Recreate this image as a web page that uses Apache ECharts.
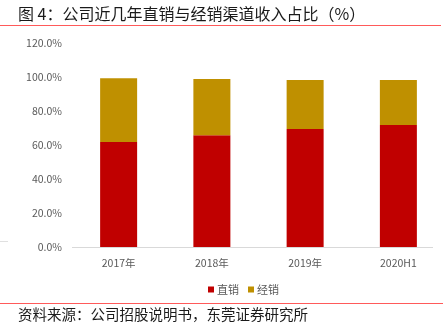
<!DOCTYPE html>
<html><head><meta charset="utf-8">
<script src="https://cdn.jsdelivr.net/npm/echarts@6/dist/echarts.min.js"></script>
<style>html,body{margin:0;padding:0;background:#fff}#c{width:445px;height:330px}</style>
</head><body><div id="c"></div>
<script>
const categories = ['2017年', '2018年', '2019年', '2020H1'];
const directSales = [61.8, 65.7, 69.4, 71.8];
const distribution = [37.4, 33.1, 28.8, 26.4];
const seriesNames = ['直销', '经销'];
const titleText = '图 4：公司近几年直销与经销渠道收入占比（%）';
const sourceText = '资料来源：公司招股说明书，东莞证券研究所';

const font = '"Noto Sans CJK SC", "Microsoft YaHei", sans-serif';
const chart = echarts.init(document.getElementById('c'), null, {renderer: 'canvas'});
chart.setOption({
  animation: false,
  textStyle: {fontFamily: font},
  graphic: [
    {type: 'text', left: 18, top: 6, style: {text: titleText, font: '16px ' + font, fill: '#1a1a1a'}},
    {type: 'line', shape: {x1: 0, y1: 25.5, x2: 441, y2: 25.5}, style: {stroke: '#FF5A5A', lineWidth: 1.2}},
    {type: 'line', shape: {x1: 72, y1: 247.5, x2: 433, y2: 247.5}, style: {stroke: '#D9D9D9', lineWidth: 1}},
    {type: 'line', shape: {x1: 0, y1: 241.5, x2: 8, y2: 241.5}, style: {stroke: '#E0E0E0', lineWidth: 1}},
    {type: 'line', shape: {x1: 0, y1: 303.5, x2: 443, y2: 303.5}, style: {stroke: '#FF5A5A', lineWidth: 1.2}},
    {type: 'text', left: 18, top: 307, style: {text: sourceText, font: '14.5px ' + font, fill: '#1a1a1a'}}
  ],
  legend: {
    data: seriesNames, left: 208, top: 284, itemWidth: 6, itemHeight: 6, itemGap: 9,
    icon: 'rect', textStyle: {color: '#595959', fontSize: 11, fontFamily: font, padding: [0, 0, 0, -2]}, padding: 0
  },
  grid: {left: 72, top: 43, width: 376, height: 204, containLabel: false},
  xAxis: {
    type: 'category', data: categories,
    axisLine: {show: false}, axisTick: {show: false},
    axisLabel: {color: '#595959', fontSize: 10.5, margin: 11, fontFamily: font}
  },
  yAxis: {
    type: 'value', min: 0, max: 120, interval: 20,
    splitLine: {show: false}, axisLine: {show: false}, axisTick: {show: false},
    axisLabel: {color: '#595959', fontSize: 10.5, margin: 10, formatter: v => v.toFixed(1) + '%', fontFamily: font}
  },
  series: [
    {name: seriesNames[0], type: 'bar', stack: 's', data: directSales, barWidth: 37, itemStyle: {color: '#C00000'}},
    {name: seriesNames[1], type: 'bar', stack: 's', data: distribution, barWidth: 37, itemStyle: {color: '#BF9000'}}
  ]
});
</script></body></html>
